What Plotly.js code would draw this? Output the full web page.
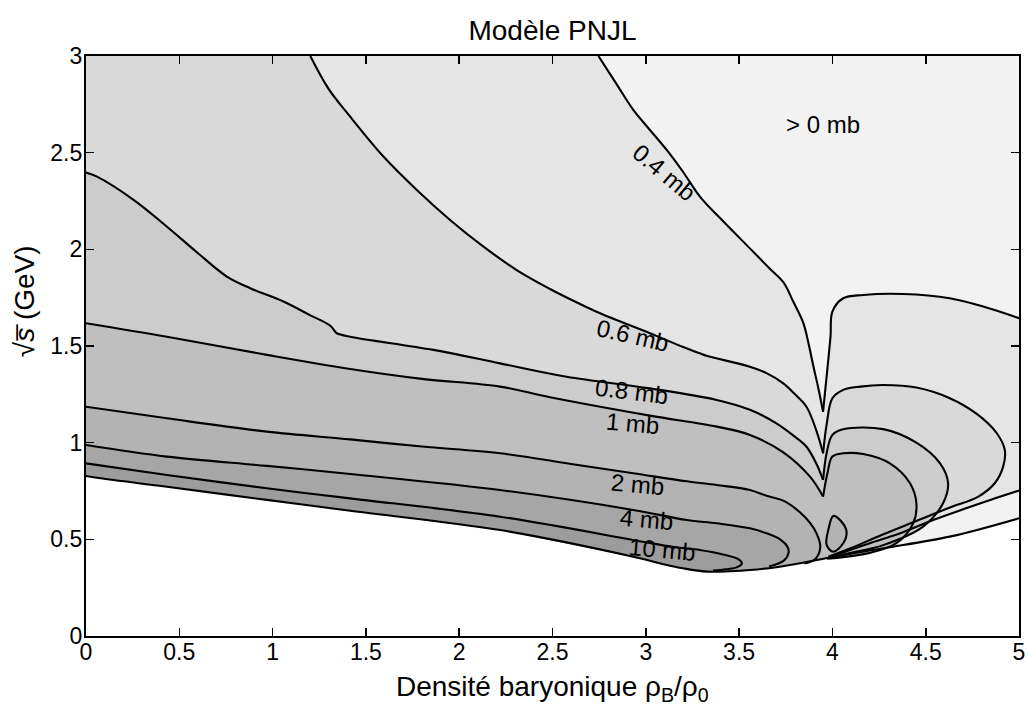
<!DOCTYPE html>
<html>
<head>
<meta charset="utf-8">
<script src="https://cdn.plot.ly/plotly-3.0.1.min.js"></script>
<style>html,body{margin:0;padding:0;background:#fff;}#plot{width:1029px;height:709px;}</style>
</head>
<body>
<div id="plot"></div>
<script>
// ---- data (x: rho_B/rho_0, y: sqrt(s) in GeV) ----
const xRange = [0, 5];
const yRange = [0, 3];

// lower boundary of the data (threshold)
const bnd_x = [0, 0.077, 0.434, 0.969, 1.416, 2.219, 2.933, 3.10, 3.20, 3.326, 3.45, 3.558, 3.70, 3.826, 4.005, 4.272, 4.629, 5.0];
const bnd_y = [0.828, 0.816, 0.772, 0.704, 0.648, 0.548, 0.41, 0.37, 0.35, 0.333, 0.335, 0.341, 0.356, 0.376, 0.41, 0.454, 0.514, 0.609];

// 0.4 mb contour: upper branch (top edge -> V -> right edge) and lower branch (right edge -> threshold)
const c04u_x = [2.746, 2.84, 2.933, 3.02, 3.112, 3.20, 3.29, 3.42, 3.558, 3.665, 3.737, 3.79, 3.844, 3.875, 3.897, 3.925, 3.95, 3.975, 3.99, 4.0, 4.058, 4.165, 4.379, 4.629, 4.808, 5.0];
const c04u_y = [3.0, 2.86, 2.721, 2.62, 2.514, 2.40, 2.273, 2.14, 2.005, 1.90, 1.83, 1.73, 1.62, 1.50, 1.40, 1.28, 1.16, 1.40, 1.55, 1.678, 1.747, 1.764, 1.769, 1.747, 1.704, 1.644];
const c04l_x = [5.0, 4.85, 4.72, 4.54, 4.36, 4.2, 4.08, 3.98];
const c04l_y = [0.752, 0.705, 0.662, 0.60, 0.53, 0.48, 0.44, 0.41];

// 0.6 mb contour
const c06_x = [1.202, 1.30, 1.416, 1.594, 1.773, 1.951, 2.13, 2.308, 2.487, 2.62, 2.755, 3.022, 3.20, 3.29, 3.326, 3.558, 3.647, 3.737, 3.80, 3.861, 3.915, 3.95, 3.97, 4.0, 4.058, 4.15, 4.272, 4.45, 4.629, 4.772, 4.88, 4.924, 4.915, 4.87, 4.78, 4.63, 4.45, 4.27, 4.1, 3.98];
const c06_y = [3.0, 2.83, 2.686, 2.48, 2.307, 2.152, 2.014, 1.893, 1.795, 1.73, 1.669, 1.566, 1.495, 1.462, 1.449, 1.393, 1.36, 1.307, 1.25, 1.186, 1.06, 0.945, 1.10, 1.23, 1.273, 1.29, 1.298, 1.285, 1.23, 1.15, 1.05, 0.962, 0.876, 0.79, 0.72, 0.665, 0.595, 0.525, 0.455, 0.41];

// 0.8 mb contour
const c08_x = [0, 0.059, 0.255, 0.434, 0.60, 0.755, 0.88, 1.058, 1.20, 1.309, 1.335, 1.344, 1.416, 1.862, 2.219, 2.576, 3.022, 3.38, 3.558, 3.70, 3.80, 3.861, 3.915, 3.95, 3.97, 4.0, 4.058, 4.272, 4.45, 4.576, 4.62, 4.593, 4.486, 4.272, 4.1, 3.98];
const c08_y = [2.397, 2.376, 2.256, 2.117, 1.98, 1.859, 1.799, 1.73, 1.66, 1.605, 1.575, 1.566, 1.548, 1.48, 1.41, 1.341, 1.281, 1.221, 1.17, 1.10, 1.03, 0.979, 0.89, 0.807, 0.95, 1.04, 1.069, 1.07, 1.0, 0.894, 0.79, 0.687, 0.566, 0.47, 0.43, 0.405];

// 1 mb contour
const c1_x = [0, 0.434, 0.969, 1.416, 1.80, 2.219, 2.487, 3.022, 3.38, 3.558, 3.737, 3.88, 3.95, 3.975, 4.0, 4.058, 4.165, 4.308, 4.416, 4.45, 4.433, 4.343, 4.2, 3.97];
const c1_y = [1.618, 1.548, 1.454, 1.381, 1.33, 1.29, 1.235, 1.14, 1.083, 1.04, 0.95, 0.824, 0.721, 0.85, 0.928, 0.945, 0.941, 0.893, 0.79, 0.687, 0.583, 0.48, 0.43, 0.40];

// 2 mb contour and its small island
const c2_x = [0, 0.434, 0.969, 1.416, 1.80, 2.219, 2.6, 2.933, 3.22, 3.38, 3.558, 3.647, 3.737, 3.826, 3.88, 3.915, 3.935, 3.91, 3.85];
const c2_y = [1.186, 1.126, 1.057, 1.017, 0.98, 0.945, 0.89, 0.842, 0.80, 0.781, 0.755, 0.725, 0.70, 0.64, 0.585, 0.531, 0.462, 0.40, 0.375];
const c2i_x = [4.005, 4.049, 4.076, 4.058, 4.005, 3.969, 3.978, 4.005];
const c2i_y = [0.621, 0.591, 0.540, 0.480, 0.436, 0.471, 0.548, 0.621];

// 4 mb contour
const c4_x = [0, 0.434, 0.969, 1.416, 2.219, 2.933, 3.22, 3.38, 3.558, 3.647, 3.72, 3.76, 3.765, 3.74, 3.66];
const c4_y = [0.988, 0.928, 0.88, 0.838, 0.755, 0.652, 0.60, 0.583, 0.557, 0.531, 0.50, 0.46, 0.43, 0.39, 0.36];

// 10 mb contour
const c10_x = [0, 0.434, 0.969, 1.416, 2.219, 2.933, 3.15, 3.29, 3.42, 3.50, 3.515, 3.49, 3.43, 3.36];
const c10_y = [0.893, 0.833, 0.764, 0.712, 0.617, 0.497, 0.46, 0.445, 0.42, 0.395, 0.375, 0.356, 0.345, 0.338];

// labels
const lab_text  = ['0.4 mb', '0.6 mb', '0.8 mb', '1 mb', '2 mb', '4 mb', '10 mb', '> 0 mb'];
const lab_x     = [3.10, 2.93, 2.926, 2.931, 2.958, 3.006, 3.092, 3.949];
const lab_y     = [2.40, 1.552, 1.267, 1.097, 0.786, 0.605, 0.45, 2.644];
const lab_angle = [40, 13, 7, 5, 5, 5, 5, 0];

// fill colours for value > level
const fill_colors = {r0: '#f2f2f2', r04: '#e5e5e5', r06: '#d9d9d9', r08: '#cccccc', r1: '#bfbfbf', r2: '#b3b3b3', r4: '#a6a6a6', r10: '#9c9c9c'};

// ---- build region polygons from the contours ----
function region(cx, cy) {
  const px = [xRange[0]], py = [bnd_y[0]];
  if (cx[0] !== xRange[0]) { px.push(xRange[0]); py.push(yRange[1]); }
  for (let i = 0; i < cx.length; i++) { px.push(cx[i]); py.push(cy[i]); }
  const endX = cx[cx.length - 1];
  for (let i = bnd_x.length - 1; i >= 0; i--) {
    if (bnd_x[i] < endX) { px.push(bnd_x[i]); py.push(bnd_y[i]); }
  }
  return [px, py];
}
function fillTrace(p, color) {
  return {x: p[0], y: p[1], mode: 'lines', fill: 'toself', fillcolor: color,
          line: {width: 0, color: color}, hoverinfo: 'skip', showlegend: false};
}
// line traces: smooth, but split at the sharp V tips (local minimum near x = 3.95)
function lineTraces(x, y) {
  const cuts = [];
  for (let i = 1; i < x.length - 1; i++) {
    if (y[i] < y[i - 1] && y[i] < y[i + 1] && x[i] > 3.9 && x[i] < 4.0) cuts.push(i);
  }
  const out = [];
  let s = 0;
  cuts.concat([x.length - 1]).forEach(c => {
    out.push({x: x.slice(s, c + 1), y: y.slice(s, c + 1), mode: 'lines',
              line: {color: '#000', width: 2.1, shape: 'spline', smoothing: 1.0},
              hoverinfo: 'skip', showlegend: false});
    s = c;
  });
  return out;
}

const r0 = [bnd_x.concat([xRange[1], xRange[0]]), bnd_y.concat([yRange[1], yRange[1]])];
let traces = [
  fillTrace(r0, fill_colors.r0),
  fillTrace(region(c04u_x.concat(c04l_x), c04u_y.concat(c04l_y)), fill_colors.r04),
  fillTrace(region(c06_x, c06_y), fill_colors.r06),
  fillTrace(region(c08_x, c08_y), fill_colors.r08),
  fillTrace(region(c1_x, c1_y), fill_colors.r1),
  fillTrace(region(c2_x, c2_y), fill_colors.r2),
  fillTrace([c2i_x, c2i_y], fill_colors.r2),
  fillTrace(region(c4_x, c4_y), fill_colors.r4),
  fillTrace(region(c10_x, c10_y), fill_colors.r10)
];
[[c04u_x, c04u_y], [c04l_x, c04l_y], [c06_x, c06_y], [c08_x, c08_y], [c1_x, c1_y],
 [c2_x, c2_y], [c2i_x, c2i_y], [c4_x, c4_y], [c10_x, c10_y], [bnd_x, bnd_y]]
  .forEach(c => { traces = traces.concat(lineTraces(c[0], c[1])); });

const FONT = 'Liberation Sans, Arial, Helvetica, sans-serif';
const annotations = lab_text.map((t, i) => ({
  x: lab_x[i], y: lab_y[i], xref: 'x', yref: 'y', text: t, showarrow: false,
  textangle: lab_angle[i], font: {family: FONT, size: 24, color: '#000'}
}));
// axis titles
annotations.push({
  xref: 'paper', yref: 'paper', x: 0.4995, y: -0.0897, xanchor: 'center', yanchor: 'middle',
  text: 'Densité baryonique ρ<sub>B</sub>/ρ<sub>0</sub>', showarrow: false,
  font: {family: FONT, size: 28, color: '#000'}
});
annotations.push({
  xref: 'paper', yref: 'paper', x: -0.066, y: 0.578, xanchor: 'center', yanchor: 'middle',
  text: '√<i>s̅</i> (GeV)', showarrow: false, textangle: -90,
  font: {family: FONT, size: 28, color: '#000'}
});

const axisCommon = {
  showline: true, linecolor: '#000', linewidth: 2.2, mirror: 'ticks',
  ticks: 'inside', ticklen: 8, tickwidth: 1.6, tickcolor: '#000',
  showgrid: false, zeroline: false, dtick: 0.5, tick0: 0,
  tickfont: {family: FONT, size: 23, color: '#000'}
};

const layout = {
  width: 1029, height: 709,
  margin: {l: 86, r: 10, t: 56, b: 73},
  paper_bgcolor: '#fff', plot_bgcolor: '#fff',
  font: {family: FONT, color: '#000'},
  title: {text: 'Modèle PNJL', font: {family: FONT, size: 28, color: '#000'},
          xref: 'paper', x: 0.5, xanchor: 'center', yref: 'container', y: 0.958, yanchor: 'middle'},
  xaxis: Object.assign({}, axisCommon, {range: xRange, ticklabelstandoff: -6}),
  yaxis: Object.assign({}, axisCommon, {range: yRange, ticklabelstandoff: -3}),
  annotations: annotations,
  showlegend: false
};

Plotly.newPlot('plot', traces, layout, {displayModeBar: false, staticPlot: true});
</script>
</body>
</html>
